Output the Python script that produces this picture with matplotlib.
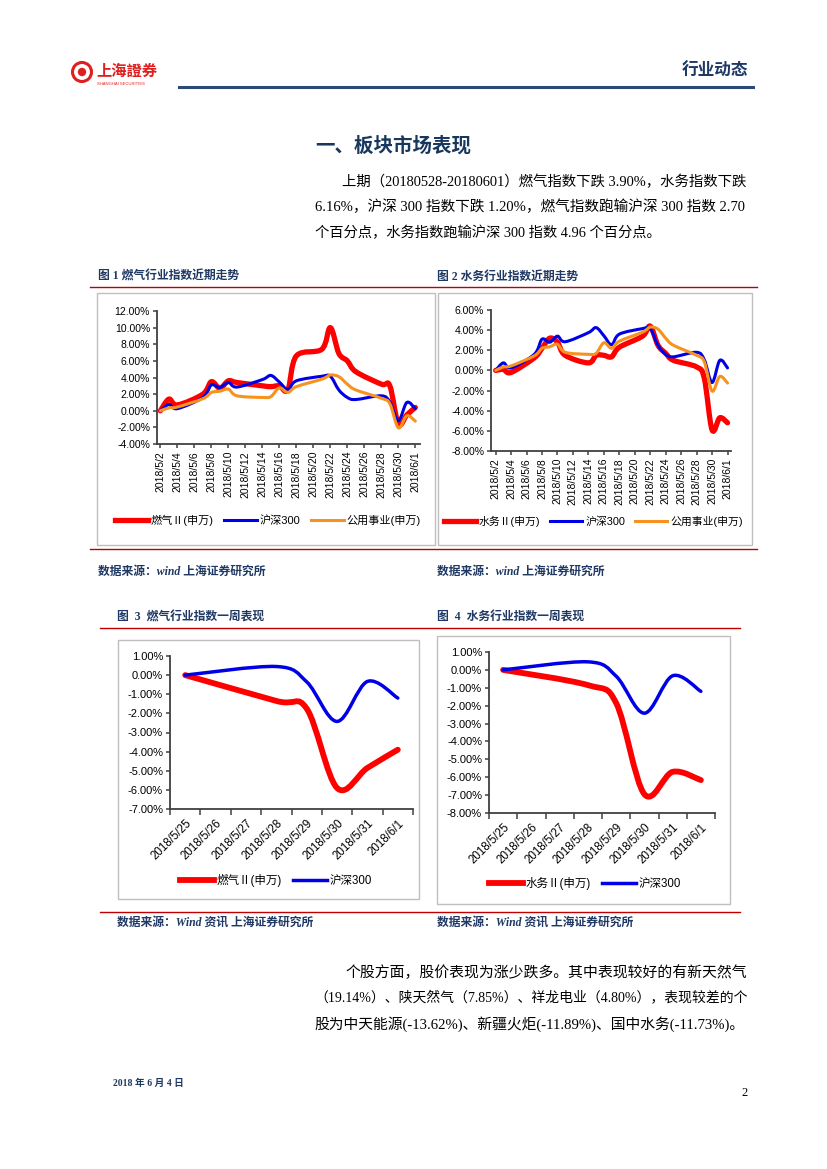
import numpy as np
import pandas as pd
import matplotlib
matplotlib.use('Agg')
import matplotlib.pyplot as plt
import matplotlib.dates as mdates
from matplotlib.path import Path
from matplotlib.patches import PathPatch, Rectangle, Ellipse
from matplotlib.lines import Line2D

plt.rcParams['font.family'] = ['Liberation Sans', 'Noto Sans CJK SC', 'DejaVu Sans']

# ---- data: recent trend (fig 1 / fig 2), trading days ----
days = ['2018-05-02', '2018-05-03', '2018-05-04', '2018-05-07', '2018-05-08', '2018-05-09',
        '2018-05-10', '2018-05-11', '2018-05-14', '2018-05-15', '2018-05-16', '2018-05-17',
        '2018-05-18', '2018-05-21', '2018-05-22', '2018-05-23', '2018-05-24', '2018-05-25',
        '2018-05-28', '2018-05-29', '2018-05-30', '2018-05-31', '2018-06-01']
gas = [0.0, 1.4, 0.7, 2.0, 3.5, 2.7, 3.6, 3.4, 3.0, 2.9, 3.0, 2.5,
       6.6, 7.4, 10.0, 6.9, 6.0, 4.7, 3.2, 3.0, -1.6, -0.5, 0.4]
water = [0.0, 0.1, -0.2, 1.25, 2.2, 3.2, 2.8, 1.5, 0.75, 1.5, 1.5, 1.35,
         2.3, 3.4, 4.4, 2.5, 1.7, 1.0, 0.35, -0.8, -5.9, -4.7, -5.2]
hs300 = [0.0, 0.75, 0.25, 1.6, 3.1, 2.8, 3.4, 2.85, 3.75, 4.25, 3.45, 2.55,
         3.6, 4.15, 4.15, 2.5, 1.6, 1.35, 1.8, 1.05, -1.2, 1.0, 0.25]
utility = [0.0, 0.35, 0.45, 1.45, 2.2, 2.35, 2.6, 1.8, 1.6, 1.7, 2.75, 2.2,
           2.9, 3.8, 4.3, 4.1, 3.2, 2.5, 1.5, 0.85, -2.05, -0.6, -1.25]

# ---- data: one week (fig 3 / fig 4), calendar days ----
week = ['2018/5/25', '2018/5/26', '2018/5/27', '2018/5/28', '2018/5/29', '2018/5/30', '2018/5/31', '2018/6/1']
week_gas = [0.0, np.nan, np.nan, -1.35, -1.75, -5.9, -4.85, -3.90]
week_water = [0.0, np.nan, np.nan, -0.85, -1.85, -6.95, -5.7, -6.16]
week_hs300 = [0.0, np.nan, np.nan, 0.45, -0.35, -2.42, -0.33, -1.20]

RED = '#FF0000'
BLUE = '#0000E6'
ORANGE = '#F7921E'
NAVY = '#1F3864'
DARKRED = '#C00000'
AXC = '#404040'

W, H = 827, 1169
fig = plt.figure(figsize=(W / 100, H / 100), dpi=100)


def fx(px):
    return px / W


def fy(py):
    return 1 - py / H


def add_ax(l, t, r, b):
    return fig.add_axes([fx(l), fy(b), (r - l) / W, (b - t) / H])


def smooth(ax, x, y, color, lw, z):
    x = np.asarray(x, float)
    y = np.asarray(y, float)
    ok = ~np.isnan(y)
    pts = np.column_stack([x[ok], y[ok]])
    n = len(pts)
    verts = [pts[0]]
    codes = [Path.MOVETO]
    for i in range(n - 1):
        p0 = pts[i - 1] if i > 0 else pts[i]
        p1, p2 = pts[i], pts[i + 1]
        p3 = pts[i + 2] if i + 2 < n else pts[i + 1]
        verts += [p1 + (p2 - p0) / 6, p2 - (p3 - p1) / 6, p2]
        codes += [Path.CURVE4] * 3
    patch = PathPatch(Path(verts, codes), fill=False, edgecolor=color, lw=lw,
                      capstyle='round', joinstyle='round', zorder=z)
    ax.add_patch(patch)


def style_ax(ax, yticks, fs):
    for s in ['top', 'right']:
        ax.spines[s].set_visible(False)
    for s in ['left', 'bottom']:
        ax.spines[s].set_color(AXC)
        ax.spines[s].set_linewidth(1.3)
    ax.set_ylim(yticks[0], yticks[-1])
    ax.set_yticks(yticks)
    ax.set_yticklabels(['%.2f%%' % v for v in yticks], fontsize=fs)
    ax.tick_params(axis='y', direction='out', length=3, width=1.1, color=AXC, pad=2)
    ax.patch.set_alpha(0)


def frame(l, t, r, b):
    fig.patches.append(Rectangle((fx(l), fy(b)), (r - l) / W, (b - t) / H, transform=fig.transFigure,
                                 fill=False, edgecolor='#BFBFBF', lw=1.0))


def hline(y, x0, x1, color=DARKRED, lw=1.0):
    fig.add_artist(Line2D([fx(x0), fx(x1)], [fy(y), fy(y)], color=color, lw=lw))


def legend(ax, items, cx, cy, fs):
    hs = [Line2D([], [], color=c, lw=w) for _, c, w in items]
    ax.legend(hs, [t for t, _, _ in items], loc='center', bbox_to_anchor=(fx(cx), fy(cy)),
              bbox_transform=fig.transFigure, ncol=len(items), frameon=False, fontsize=fs,
              handlelength=3.0, handletextpad=0.25, columnspacing=0.9, borderaxespad=0)


body = ['Liberation Serif', 'Noto Sans CJK SC']
renderer = fig.canvas.get_renderer()


def line(x0, y, s, x1=None, fs=10.3):
    t = fig.text(fx(x0), fy(y), s, fontsize=fs, ha='left', va='center', family=body)
    if x1 is not None:
        w = t.get_window_extent(renderer).width
        t.set_fontsize(fs * (x1 - x0) / w)


# ---- header ----
fig.patches.append(Ellipse((fx(82), fy(72)), 19 / W, 19 / H, transform=fig.transFigure,
                           fill=False, edgecolor='#E02020', lw=2.2))
fig.patches.append(Ellipse((fx(82), fy(72)), 7 / W, 7 / H, transform=fig.transFigure,
                           color='#E02020'))
fig.text(fx(96), fy(71), '上海證券', fontsize=11, fontweight='bold', color='#E02020',
         family=['Noto Sans CJK TC'], va='center', ha='left')
fig.text(fx(97), fy(84), 'SHANGHAI SECURITIES', fontsize=3, color='#E02020', va='center', ha='left')
fig.text(fx(748), fy(71), '行业动态', fontsize=12, fontweight='bold', color=NAVY, ha='right', va='center',
         family=['Noto Sans CJK SC'])
hline(87, 179, 753, color='#2B4A75', lw=2.2)

fig.text(fx(315), fy(146), '一、板块市场表现', fontsize=14, fontweight='bold', color='#17375E',
         ha='left', va='center', family=['Noto Sans CJK SC'])

line(342, 182, '上期（20180528-20180601）燃气指数下跌 3.90%，水务指数下跌', 745)
line(315, 207, '6.16%，沪深 300 指数下跌 1.20%，燃气指数跑输沪深 300 指数 2.70', 745)
line(315, 233, '个百分点，水务指数跑输沪深 300 指数 4.96 个百分点。')

# ---- captions row 1 ----
fig.text(fx(98), fy(277), '图 1 燃气行业指数近期走势', fontsize=8.5, fontweight='bold', color=NAVY,
         ha='left', va='center', family=['Liberation Serif', 'Noto Sans CJK SC'])
fig.text(fx(437), fy(277), '图 2 水务行业指数近期走势', fontsize=8.5, fontweight='bold', color=NAVY,
         ha='left', va='center', family=['Liberation Serif', 'Noto Sans CJK SC'])
hline(287, 90, 757)
frame(97, 293, 435, 545)
frame(438, 293, 752, 545)
hline(549, 90, 757)

src = ['Liberation Serif', 'Noto Sans CJK SC']
fig.text(fx(98), fy(572), '数据来源：wind 上海证券研究所', fontsize=8.5, fontweight='bold', style='italic',
         color=NAVY, ha='left', va='center', family=src)
fig.text(fx(437), fy(572), '数据来源：wind 上海证券研究所', fontsize=8.5, fontweight='bold', style='italic',
         color=NAVY, ha='left', va='center', family=src)

# ---- fig 1 / fig 2 ----
dnum = mdates.date2num(pd.to_datetime(days))
tick_days = pd.date_range('2018-05-02', '2018-06-01', freq='2D')
tick_num = mdates.date2num(tick_days)
tick_lab = ['%d/%d/%d' % (d.year, d.month, d.day) for d in tick_days]

ax1 = add_ax(157, 311, 420, 444)
style_ax(ax1, [-4, -2, 0, 2, 4, 6, 8, 10, 12], 7.5)
ax1.set_xlim(dnum[0] - 0.4, dnum[-1] + 0.55)
ax1.set_xticks(tick_num)
ax1.set_xticklabels(tick_lab, rotation=90, fontsize=7.5)
ax1.tick_params(axis='x', direction='out', length=3, width=1.1, color=AXC, pad=2)
smooth(ax1, dnum, gas, RED, 3.8, 3)
smooth(ax1, dnum, hs300, BLUE, 2.2, 4)
smooth(ax1, dnum, utility, ORANGE, 2.2, 5)
legend(ax1, [('燃气Ⅱ(申万)', RED, 3.8), ('沪深300', BLUE, 2.2), ('公用事业(申万)', ORANGE, 2.2)],
       268, 520, 8)

ax2 = add_ax(491, 310, 731, 451)
style_ax(ax2, [-8, -6, -4, -2, 0, 2, 4, 6], 7.5)
ax2.set_xlim(dnum[0] - 0.6, dnum[-1] + 0.45)
ax2.set_xticks(tick_num)
ax2.set_xticklabels(tick_lab, rotation=90, fontsize=7.5)
ax2.tick_params(axis='x', direction='out', length=3, width=1.1, color=AXC, pad=2)
smooth(ax2, dnum, water, RED, 3.8, 3)
smooth(ax2, dnum, hs300, BLUE, 2.2, 4)
smooth(ax2, dnum, utility, ORANGE, 2.2, 5)
legend(ax2, [('水务Ⅱ(申万)', RED, 3.8), ('沪深300', BLUE, 2.2), ('公用事业(申万)', ORANGE, 2.2)],
       593, 521, 7.8)

# ---- captions row 2 ----
fig.text(fx(117), fy(618), '图  3  燃气行业指数一周表现', fontsize=8.5, fontweight='bold', color=NAVY,
         ha='left', va='center', family=['Liberation Serif', 'Noto Sans CJK SC'])
fig.text(fx(437), fy(618), '图  4  水务行业指数一周表现', fontsize=8.5, fontweight='bold', color=NAVY,
         ha='left', va='center', family=['Liberation Serif', 'Noto Sans CJK SC'])
hline(628, 100, 740)
frame(118, 640, 419, 899)
frame(437, 636, 730, 904)
hline(912, 100, 740)
fig.text(fx(117), fy(923), '数据来源：Wind 资讯 上海证券研究所', fontsize=8.5, fontweight='bold', style='italic',
         color=NAVY, ha='left', va='center', family=src)
fig.text(fx(437), fy(923), '数据来源：Wind 资讯 上海证券研究所', fontsize=8.5, fontweight='bold', style='italic',
         color=NAVY, ha='left', va='center', family=src)


def week_ax(l, t, r, b, yt, red_vals):
    ax = add_ax(l, t, r, b)
    style_ax(ax, yt, 8)
    xs = np.arange(len(week))
    ax.set_xlim(-0.5, len(week) - 0.5)
    ax.set_xticks(xs)
    ax.set_xticklabels(week, rotation=45, ha='right', rotation_mode='anchor', fontsize=8.3)
    ax.set_xticks(np.arange(len(week) + 1) - 0.5, minor=True)
    ax.tick_params(axis='x', which='major', length=0, pad=6)
    ax.tick_params(axis='x', which='minor', direction='out', length=4, width=1.1, color=AXC)
    smooth(ax, xs, red_vals, RED, 4.2, 3)
    smooth(ax, xs, week_hs300, BLUE, 2.5, 4)
    return ax


ax3 = week_ax(170, 656, 413, 809, [-7, -6, -5, -4, -3, -2, -1, 0, 1], week_gas)
legend(ax3, [('燃气Ⅱ(申万)', RED, 4.2), ('沪深300', BLUE, 2.5)], 276, 880, 8.3)
ax4 = week_ax(489, 652, 715, 813, [-8, -7, -6, -5, -4, -3, -2, -1, 0, 1], week_water)
legend(ax4, [('水务Ⅱ(申万)', RED, 4.2), ('沪深300', BLUE, 2.5)], 585, 884, 8.3)

# ---- second paragraph ----
line(345, 973, '个股方面，股价表现为涨少跌多。其中表现较好的有新天然气', 745)
line(314, 998, '（19.14%）、陕天然气（7.85%）、祥龙电业（4.80%），表现较差的个', 745)
line(314, 1024, '股为中天能源(-13.62%)、新疆火炬(-11.89%)、国中水务(-11.73%)。', 745)

fig.text(fx(113), fy(1083), '2018 年 6 月 4 日', fontsize=7, fontweight='bold', color=NAVY,
         ha='left', va='center', family=['Liberation Serif', 'Noto Sans CJK SC'])
fig.text(fx(748), fy(1093), '2', fontsize=9, ha='right', va='center', family=['Liberation Serif'])

fig.savefig('out.png', dpi=100)
